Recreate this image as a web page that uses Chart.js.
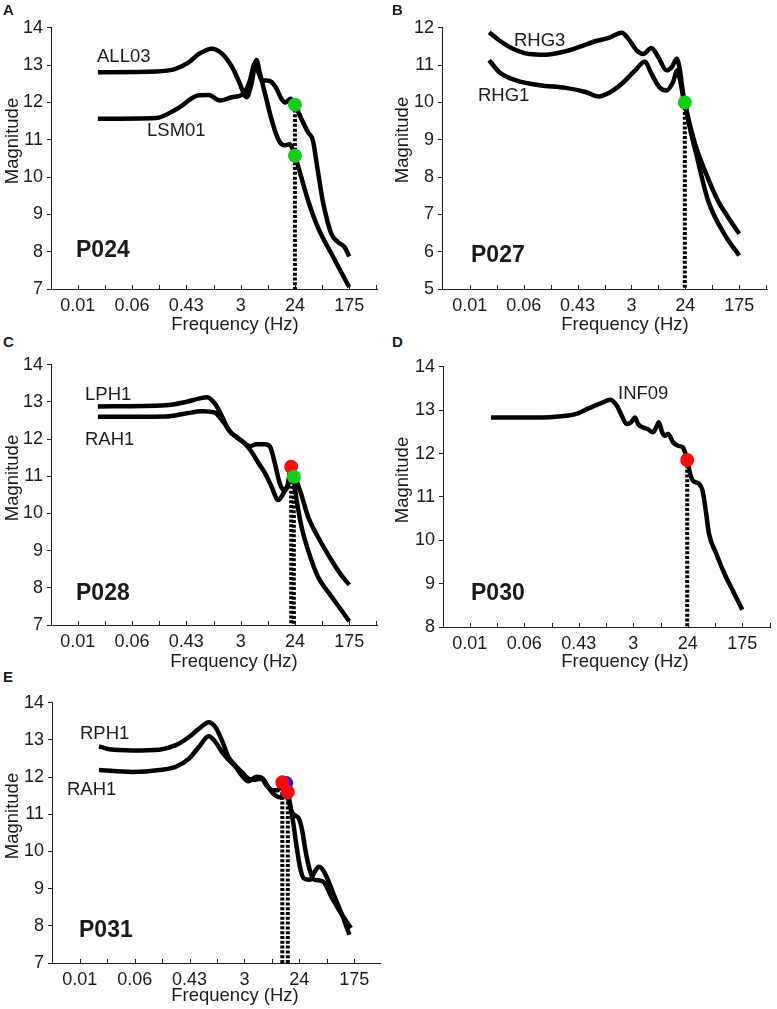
<!DOCTYPE html>
<html><head><meta charset="utf-8">
<script src="https://cdn.jsdelivr.net/npm/chart.js@4/dist/chart.umd.min.js"></script>
<style>
html,body{margin:0;padding:0;background:#fff;}
body{width:777px;height:1009px;position:relative;overflow:hidden;font-family:"Liberation Sans",Arial,sans-serif;color:#1a1a1a;}
canvas{position:absolute;}
.t{position:absolute;white-space:nowrap;line-height:1;}
</style></head><body>
<script>
// ---------- DATA ----------
// x values are positions along the frequency axis in tick units (0 = 0.01 Hz, 1 = 0.06, 2 = 0.43, 3 = 3, 4 = 24, 5 = 175 Hz)
const xTickLabels = ['0.01', '0.06', '0.43', '3', '24', '175'];

// Panel A (P024)
const A_ALL03_x = [0.37,1.44,1.80,2.05,2.23,2.47,2.66,2.84,2.96,3.11,3.20,3.29,3.35,3.45,3.54,3.63,3.72,3.81,3.90,4.0,4.09,4.24,4.42,4.67,5.0];
const A_ALL03_y = [12.81,12.83,12.9,13.08,13.3,13.44,13.3,12.95,12.59,12.14,12.5,13.14,12.81,12.23,11.7,11.25,10.94,10.85,10.88,10.57,10.13,9.38,8.66,7.95,7.05];
const A_LSM01_x = [0.37,1.44,1.83,2.23,2.41,2.62,2.84,3.05,3.17,3.26,3.33,3.39,3.48,3.57,3.66,3.75,3.82,3.92,4.0,4.09,4.24,4.33,4.42,4.51,4.67,4.79,4.91,5.0];
const A_LSM01_y = [11.56,11.58,11.83,12.19,12.2,12.05,12.14,12.23,12.59,13.04,12.8,12.59,12.59,12.55,12.37,12.1,12.0,12.1,11.94,11.65,11.2,10.98,10.18,9.38,8.48,8.26,8.13,7.87];
const A_greenX = [4.0, 4.0];
const A_greenY = [11.94, 10.57];
const A_dropX = [4.0];
const A_dropTop = [11.94];
const A_yTicks = [7,8,9,10,11,12,13,14];

// Panel B (P027)
const B_RHG3_x = [0.36,0.55,0.80,1.10,1.41,1.72,2.02,2.33,2.58,2.82,2.94,3.10,3.22,3.37,3.50,3.65,3.75,3.84,3.90,3.95,3.99,4.08,4.20,4.36,4.60,4.79,5.0];
const B_RHG3_y = [11.88,11.66,11.44,11.30,11.28,11.35,11.48,11.64,11.73,11.87,11.71,11.39,11.30,11.46,11.21,10.86,10.95,11.17,10.86,10.32,9.99,9.43,8.80,8.18,7.38,6.93,6.48];
const B_RHG1_x = [0.36,0.55,0.86,1.29,1.78,2.15,2.39,2.58,2.82,3.07,3.25,3.37,3.53,3.65,3.77,3.85,3.91,3.96,3.99,4.08,4.20,4.42,4.72,5.0];
const B_RHG1_y = [11.13,10.81,10.59,10.46,10.39,10.28,10.16,10.25,10.5,10.86,11.10,10.77,10.39,10.32,10.54,10.86,10.54,10.14,9.99,9.34,8.63,7.38,6.48,5.9];
const B_greenX = [3.99];
const B_greenY = [10.0];
const B_dropX = [3.99];
const B_dropTop = [10.0];
const B_yTicks = [5,6,7,8,9,10,11,12];

// Panel C (P028)
const C_LPH1_x = [0.37,1.62,1.99,2.23,2.38,2.53,2.66,2.78,2.96,3.08,3.20,3.33,3.45,3.57,3.69,3.81,3.90,3.98,4.09,4.24,4.42,4.67,4.85,5.0];
const C_LPH1_y = [12.88,12.91,13.0,13.09,13.13,12.95,12.6,12.24,12.02,11.88,11.66,11.35,11.08,10.72,10.36,10.6,10.85,10.99,10.63,9.92,9.38,8.75,8.35,8.08];
const C_RAH1_x = [0.37,1.62,1.99,2.29,2.53,2.66,2.84,3.02,3.17,3.29,3.45,3.54,3.63,3.72,3.80,3.86,3.93,4.03,4.12,4.24,4.42,4.67,4.85,5.0];
const C_RAH1_y = [12.6,12.61,12.69,12.75,12.71,12.5,12.15,11.95,11.81,11.86,11.86,11.8,11.35,10.81,10.63,10.72,11.26,10.36,9.65,9.02,8.31,7.77,7.41,7.1];
const C_redX = [3.93];
const C_redY = [11.26];
const C_greenX = [3.98];
const C_greenY = [10.99];
const C_dropX = [3.93, 3.98];
const C_dropTop = [11.26, 10.99];
const C_yTicks = [7,8,9,10,11,12,13,14];

// Panel D (P030)
const D_INF09_x = [0.39,0.97,1.58,1.94,2.18,2.42,2.58,2.70,2.79,2.88,2.96,3.03,3.09,3.18,3.27,3.36,3.42,3.47,3.53,3.58,3.64,3.73,3.82,3.91,3.95,3.99,4.03,4.09,4.21,4.27,4.33,4.39,4.52,4.67,4.85,5.0];
const D_INF09_y = [12.83,12.83,12.85,12.91,13.04,13.17,13.24,13.1,12.87,12.68,12.72,12.83,12.68,12.6,12.56,12.49,12.6,12.72,12.49,12.41,12.45,12.26,12.18,12.14,12.03,11.85,11.6,11.38,11.3,11.15,10.69,10.15,9.7,9.24,8.78,8.4];
const D_redX = [3.99];
const D_redY = [11.85];
const D_dropX = [3.99];
const D_dropTop = [11.85];
const D_yTicks = [8,9,10,11,12,13,14];

// Panel E (P031)
const E_RPH1_x = [0.35,0.54,0.96,1.45,1.75,1.99,2.17,2.35,2.47,2.59,2.71,2.83,2.95,3.07,3.19,3.31,3.40,3.52,3.61,3.69,3.73,3.80,3.86,3.93,3.99,4.05,4.11,4.19,4.27,4.37,4.46,4.58,4.76,4.94];
const E_RPH1_y = [12.83,12.75,12.72,12.74,12.86,13.08,13.3,13.48,13.35,12.99,12.54,12.32,12.14,11.96,11.93,11.96,11.78,11.65,11.65,11.87,11.69,11.38,11.07,10.96,10.89,10.58,10.04,9.5,9.24,9.22,9.15,8.79,8.34,7.94];
const E_RAH1_x = [0.35,0.96,1.45,1.75,1.99,2.17,2.35,2.47,2.59,2.71,2.83,2.95,3.07,3.22,3.34,3.43,3.55,3.67,3.75,3.79,3.83,3.89,3.95,4.01,4.08,4.19,4.28,4.36,4.43,4.52,4.64,4.79,4.91];
const E_RAH1_y = [12.19,12.14,12.19,12.28,12.5,12.81,13.1,12.95,12.68,12.47,12.29,12.05,11.89,12.01,11.96,11.74,11.52,11.45,11.52,11.6,11.29,10.76,10.13,9.59,9.28,9.24,9.46,9.59,9.5,9.24,8.79,8.25,7.76];
const E_blueX = [3.76];
const E_blueY = [11.84];
const E_redX = [3.69, 3.79];
const E_redY = [11.86, 11.6];
const E_dropX = [3.69, 3.79];
const E_dropTop = [11.86, 11.6];
const E_yTicks = [7,8,9,10,11,12,13,14];

// ---------- STYLE / LAYOUT ----------
const FONT = "'Liberation Sans', Arial, Helvetica, sans-serif";
const INK = '#1a1a1a';
const GREEN = '#14d014';
const RED = '#ff0a0a';
const BLUE = '#1a1ae6';
const Y_W = 50, X_H = 40, PAD_T = 14, PAD_R = 4;

const zip = (xs, ys) => xs.map((x, i) => ({x, y: ys[i]}));

function curve(xs, ys) {
  return {type: 'line', data: zip(xs, ys), borderColor: '#000', borderWidth: 4.5,
    pointRadius: 0, cubicInterpolationMode: 'monotone', borderJoinStyle: 'round',
    borderCapStyle: 'butt', fill: false, order: 2};
}
function dots(xs, ys, color, order) {
  return {type: 'line', data: zip(xs, ys), showLine: false, pointRadius: 7,
    pointBackgroundColor: color, pointBorderWidth: 0, borderColor: color, order: order};
}
function drops(xs, tops, ymin) {
  return xs.map((x, i) => ({type: 'line', data: [{x, y: tops[i]}, {x, y: ymin}],
    borderColor: '#000', borderWidth: 4, borderDash: [3, 1.8], pointRadius: 0,
    tension: 0, fill: false, order: 5}));
}

const inwardTicks = {
  id: 'inwardTicks',
  afterDraw(chart) {
    const xs = chart.scales.x, ctx = chart.ctx, b = chart.chartArea.bottom;
    ctx.save();
    ctx.strokeStyle = INK; ctx.lineWidth = 1;
    for (let k = 0; k / 2 <= xs.max + 1e-9; k++) {
      const px = Math.round(xs.getPixelForValue(k / 2)) + 0.5;
      ctx.beginPath(); ctx.moveTo(px, b); ctx.lineTo(px, b - 4); ctx.stroke();
    }
    ctx.restore();
  }
};

function makePanel(p) {
  const unit = (p.x5 - p.x0) / 5;
  const xmin = (p.axisX - p.x0) / unit;
  const xmax = (p.right - p.x0) / unit;
  const cv = document.createElement('canvas');
  const W = Y_W + (p.right - p.axisX) + PAD_R;
  const H = PAD_T + (p.bottomY - p.topY) + X_H;
  cv.width = W; cv.height = H;
  cv.style.left = (p.axisX - Y_W) + 'px';
  cv.style.top = (p.topY - PAD_T) + 'px';
  cv.style.width = W + 'px'; cv.style.height = H + 'px';
  document.body.appendChild(cv);
  new Chart(cv, {
    type: 'line',
    data: {datasets: p.datasets},
    options: {
      responsive: false, animation: false, events: [],
      devicePixelRatio: 1,
      layout: {padding: {top: PAD_T, right: PAD_R, left: 0, bottom: 0}},
      plugins: {legend: {display: false}, tooltip: {enabled: false}},
      scales: {
        x: {
          type: 'linear', min: xmin, max: xmax,
          afterBuildTicks: s => { s.ticks = xTickLabels.map((_, i) => ({value: i})); },
          afterFit: s => { s.height = X_H; },
          ticks: {autoSkip: false, maxRotation: 0, minRotation: 0, padding: 6, color: INK,
            font: {family: FONT, size: 18}, callback: v => xTickLabels[Math.round(v)]},
          grid: {display: false, drawTicks: false},
          border: {display: true, color: INK, width: 1}
        },
        y: {
          type: 'linear', min: p.ymin, max: p.ymax,
          afterBuildTicks: s => { s.ticks = p.yTicks.map(v => ({value: v})); },
          afterFit: s => { s.width = Y_W; },
          ticks: {padding: 4, color: INK, font: {family: FONT, size: 18}, callback: v => String(v)},
          grid: {display: true, drawOnChartArea: false, drawTicks: true, tickLength: 4, color: INK, lineWidth: 1},
          border: {display: true, color: INK, width: 1}
        }
      }
    },
    plugins: [inwardTicks]
  });
}

makePanel({axisX: 51, topY: 27, bottomY: 289, x0: 78, x5: 352, right: 380, ymin: 7, ymax: 14, yTicks: A_yTicks,
  datasets: [dots(A_greenX, A_greenY, GREEN, 0), curve(A_ALL03_x, A_ALL03_y), curve(A_LSM01_x, A_LSM01_y), ...drops(A_dropX, A_dropTop, 7)]});
makePanel({axisX: 442, topY: 27, bottomY: 289, x0: 470, x5: 742, right: 770, ymin: 5, ymax: 12, yTicks: B_yTicks,
  datasets: [dots(B_greenX, B_greenY, GREEN, 0), curve(B_RHG3_x, B_RHG3_y), curve(B_RHG1_x, B_RHG1_y), ...drops(B_dropX, B_dropTop, 5)]});
makePanel({axisX: 51, topY: 364, bottomY: 625, x0: 78, x5: 352, right: 380, ymin: 7, ymax: 14, yTicks: C_yTicks,
  datasets: [dots(C_greenX, C_greenY, GREEN, 0), dots(C_redX, C_redY, RED, 1), curve(C_LPH1_x, C_LPH1_y), curve(C_RAH1_x, C_RAH1_y), ...drops(C_dropX, C_dropTop, 7)]});
makePanel({axisX: 443, topY: 366, bottomY: 627, x0: 470, x5: 745, right: 773, ymin: 8, ymax: 14, yTicks: D_yTicks,
  datasets: [dots(D_redX, D_redY, RED, 0), curve(D_INF09_x, D_INF09_y), ...drops(D_dropX, D_dropTop, 8)]});
makePanel({axisX: 52, topY: 702, bottomY: 963, x0: 80, x5: 357, right: 383, ymin: 7, ymax: 14, yTicks: E_yTicks,
  datasets: [dots(E_redX, E_redY, RED, 0), dots(E_blueX, E_blueY, BLUE, 1), curve(E_RPH1_x, E_RPH1_y), curve(E_RAH1_x, E_RAH1_y), ...drops(E_dropX, E_dropTop, 7)]});

// ---------- TEXT ----------
function addText(str, x, y, o) {
  const el = document.createElement('div');
  el.className = 't';
  el.textContent = str;
  el.style.fontSize = o.size + 'px';
  el.style.fontWeight = o.bold ? 'bold' : 'normal';
  el.style.left = x + 'px';
  el.style.top = y + 'px';
  let tr = o.align === 'center' ? 'translate(-50%,-50%)' : 'translate(0,-50%)';
  if (o.rotate) tr = 'translate(-50%,-50%) rotate(-90deg)';
  el.style.transform = tr;
  document.body.appendChild(el);
}
[['A', 3, 8.7], ['B', 392, 8.5], ['C', 3, 340.5], ['D', 392, 341.3], ['E', 3, 676]]
  .forEach(([s, x, y]) => addText(s, x, y, {size: 15, bold: true}));
[[12, 140.5], [402, 140], [12, 477.5], [402, 480], [12, 816]]
  .forEach(([x, y]) => addText('Magnitude', x, y, {size: 18.5, rotate: true}));
[[235, 323.5], [625, 323.5], [234, 661], [625, 661], [235, 994.5]]
  .forEach(([x, y]) => addText('Frequency (Hz)', x, y, {size: 18.5, align: 'center'}));
[['ALL03', 97, 56.3], ['LSM01', 147, 130.3], ['RHG3', 514, 40], ['RHG1', 478, 94.5],
 ['LPH1', 85, 394], ['RAH1', 85, 439], ['INF09', 618, 393], ['RPH1', 80, 732.7], ['RAH1', 67, 789.3]]
  .forEach(([s, x, y]) => addText(s, x, y, {size: 18.5}));
[['P024', 76, 249], ['P027', 471, 254], ['P028', 76, 592], ['P030', 471, 592], ['P031', 79, 929]]
  .forEach(([s, x, y]) => addText(s, x, y, {size: 23, bold: true}));
</script>
</body></html>
